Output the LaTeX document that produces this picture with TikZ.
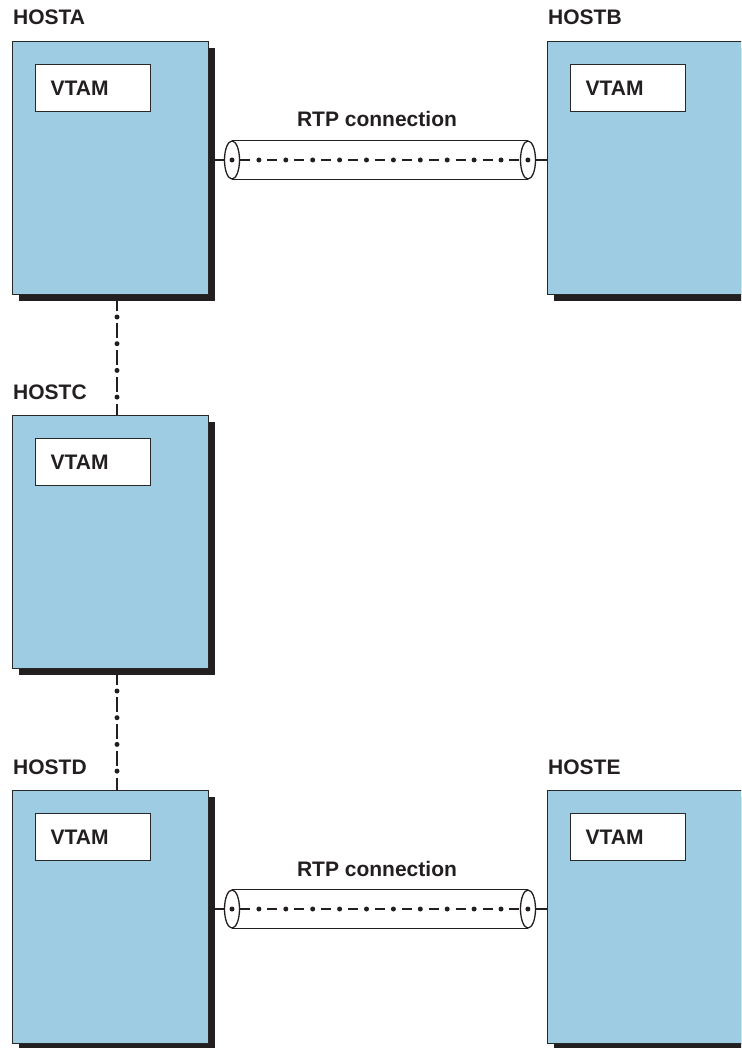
\documentclass[tikz,border=0pt]{standalone}
\usepackage{fontspec}
\setmainfont{Liberation Sans}
\usetikzlibrary{shapes.geometric,decorations.markings,calc}
\definecolor{hostblue}{RGB}{158,204,227}
\definecolor{shadowc}{RGB}{35,31,32}
\definecolor{edgec}{RGB}{40,40,40}
\newcommand\hostfont{\fontsize{21}{24}\selectfont\bfseries}
\begin{document}
\begin{tikzpicture}[x=1pt,y=-1pt,
  host/.style={draw=edgec, line width=1.2pt, fill=hostblue, minimum width=196pt, minimum height=253pt, anchor=north west, inner sep=0pt},
  shadowbox/.style={fill=shadowc, minimum width=196pt, minimum height=253pt, anchor=north west, inner sep=0pt},
  vtam/.style={draw=edgec, line width=1.2pt, fill=white, minimum width=115pt, minimum height=47pt, anchor=north west, text width=85pt, inner xsep=15pt, align=left, font=\hostfont, text=shadowc},
  lbl/.style={anchor=base west, font=\hostfont, inner sep=0pt, text=shadowc},
  pipeend/.style={ellipse, draw=shadowc, line width=1.3pt, fill=white, minimum width=15pt, minimum height=38pt, inner sep=0pt},
  pipeline/.style={draw=shadowc, line width=1.3pt},
  hconn/.style={line width=1.4pt, draw=shadowc, dash pattern=on 10pt off 16.9pt, dash phase=18.45pt, postaction={decorate}, decoration={markings, mark=between positions 0pt and 297pt step 26.9pt with {\fill[shadowc] (0,0) circle (2.5pt);}}},
  vconn/.style={line width=1.4pt, draw=shadowc, dash pattern=on 15pt off 12pt, dash phase=5pt, postaction={decorate}, decoration={markings, mark=between positions 16pt and 100pt step 26.7pt with {\fill[shadowc] (0,0) circle (2.5pt);}}}
]
\useasboundingbox (0,0) rectangle (741,1048);
\clip (0,0) rectangle (741,1048);

% vertical connectors
\coordinate (ac) at (117,301);
\coordinate (ca) at (117,415);
\coordinate (cd) at (117,675);
\coordinate (dc) at (117,790);
\draw[vconn] (ac) -- (ca);
\draw[vconn] (cd) -- (dc);

% HOSTA
\node[shadowbox] (As) at (19,48) {};
\node[host] (A) at (12,41) {};
\node[vtam] (Av) at (35,64) {VTAM};
\node[lbl] (Al) at (13,25) {HOSTA};

% HOSTB
\node[shadowbox] (Bs) at (554,48) {};
\node[host] (B) at (547,41) {};
\node[vtam] (Bv) at (570,64) {VTAM};
\node[lbl] (Bl) at (548,25) {HOSTB};

% HOSTC
\node[shadowbox] (Cs) at (19,422) {};
\node[host] (C) at (12,415) {};
\node[vtam] (Cv) at (35,438) {VTAM};
\node[lbl] (Cl) at (13,399) {HOSTC};

% HOSTD
\node[shadowbox] (Ds) at (19,797) {};
\node[host] (D) at (12,790) {};
\node[vtam] (Dv) at (35,813) {VTAM};
\node[lbl] (Dl) at (13,774) {HOSTD};

% HOSTE
\node[shadowbox] (Es) at (554,797) {};
\node[host] (E) at (547,790) {};
\node[vtam] (Ev) at (570,813) {VTAM};
\node[lbl] (El) at (548,774) {HOSTE};

% RTP connection A-B
\fill[white] (232,141) rectangle (528,179);
\node[pipeend] (p1) at (232,160) {};
\node[pipeend] (p2) at (528,160) {};
\draw[pipeline] (p1.north) -- (p2.north);
\draw[pipeline] (p1.south) -- (p2.south);
\draw[hconn] (p1.center) -- (p2.center);
\draw[pipeline] (A.east |- p1.center) -- (p1.west);
\draw[pipeline] (p2.east) -- (B.west |- p2.center);
\node[anchor=base, font=\hostfont, inner sep=0pt, text=shadowc] (rtp1) at (377,127) {RTP connection};

% RTP connection D-E
\fill[white] (232,890) rectangle (528,928);
\node[pipeend] (q1) at (232,909) {};
\node[pipeend] (q2) at (528,909) {};
\draw[pipeline] (q1.north) -- (q2.north);
\draw[pipeline] (q1.south) -- (q2.south);
\draw[hconn] (q1.center) -- (q2.center);
\draw[pipeline] (D.east |- q1.center) -- (q1.west);
\draw[pipeline] (q2.east) -- (E.west |- q2.center);
\node[anchor=base, font=\hostfont, inner sep=0pt, text=shadowc] (rtp2) at (377,876) {RTP connection};
\end{tikzpicture}
\end{document}
